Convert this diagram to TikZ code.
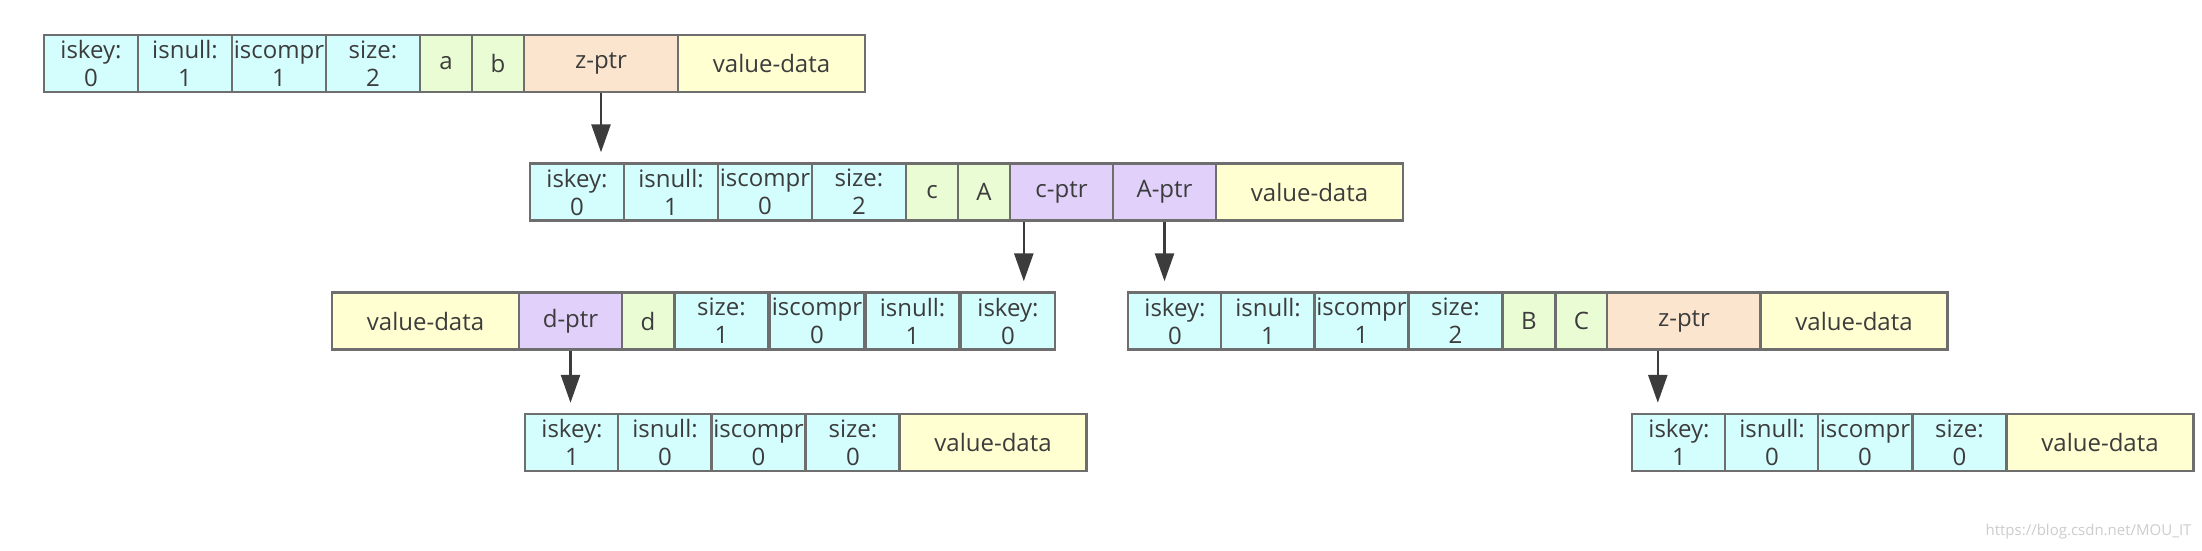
\documentclass[tikz,border=0pt]{standalone}
\usepackage{fontspec}
\setmainfont{Open Sans}
\usetikzlibrary{arrows.meta}
\definecolor{cyanf}{HTML}{D4FDFD}
\definecolor{chrf}{HTML}{EAFCD4}
\definecolor{ptrf}{HTML}{E0D0FA}
\definecolor{zptrf}{HTML}{FBE5CE}
\definecolor{valf}{HTML}{FFFFD2}
\definecolor{edge}{HTML}{6E6E6E}
\definecolor{ink}{HTML}{3C3C3C}
\begin{document}
\begin{tikzpicture}[x=1pt,y=-1pt,
  cell/.style={draw=edge,line width=2.4pt,minimum height=57pt,inner sep=0pt,align=center,
    text=ink,font=\fontsize{24}{28}\selectfont},
  fld/.style={cell,fill=cyanf,minimum width=94pt},
  chr/.style={cell,fill=chrf,minimum width=52pt},
  ptr/.style={cell,fill=ptrf,minimum width=103pt},
  zptr/.style={cell,fill=zptrf,minimum width=154pt},
  val/.style={cell,fill=valf,minimum width=187pt},
  link/.style={draw=ink,line width=2.6pt,-{Triangle[length=28pt,width=19pt]},shorten >=10pt}]
\useasboundingbox (0,0) rectangle (2202,550);
\node[fld] (k1) at (91,63.5) {iskey:\\0};
\node[fld] (n1) at (185,63.5) {isnull:\\1};
\node[fld] (c1) at (279,63.5) {iscompr\\1};
\node[fld] (s1) at (373,63.5) {size:\\2};
\node[chr] (a1) at (446,63.5) {a};
\node[chr] (b1) at (498,63.5) {b};
\node[zptr] (zp1) at (601,63.5) {z-ptr};
\node[val] (v1) at (771.5,63.5) {value-data};
\node[fld] (k2) at (577,192) {iskey:\\0};
\node[fld] (n2) at (671,192) {isnull:\\1};
\node[fld] (c2) at (765,192) {iscompr\\0};
\node[fld] (s2) at (859,192) {size:\\2};
\node[chr] (cc2) at (932,192) {c};
\node[chr] (aa2) at (984,192) {A};
\node[ptr] (cp2) at (1061.5,192) {c-ptr};
\node[ptr] (ap2) at (1164.5,192) {A-ptr};
\node[val] (v2) at (1309.5,192) {value-data};
\node[val] (v3l) at (425.5,321) {value-data};
\node[ptr] (dp3) at (570.5,321) {d-ptr};
\node[chr] (d3) at (648,321) {d};
\node[fld] (s3l) at (721.5,321) {size:\\1};
\node[fld] (c3l) at (817,321) {iscompr\\0};
\node[fld] (n3l) at (912.5,321) {isnull:\\1};
\node[fld] (k3l) at (1008,321) {iskey:\\0};
\node[fld] (k3r) at (1175,321) {iskey:\\0};
\node[fld] (n3r) at (1268,321) {isnull:\\1};
\node[fld] (c3r) at (1361.5,321) {iscompr\\1};
\node[fld] (s3r) at (1455.5,321) {size:\\2};
\node[chr] (bb3) at (1529,321) {B};
\node[chr] (cc3) at (1581.5,321) {C};
\node[zptr] (zp3) at (1684,321) {z-ptr};
\node[val] (v3r) at (1854,321) {value-data};
\node[fld] (k4l) at (572,442.5) {iskey:\\1};
\node[fld] (n4l) at (665,442.5) {isnull:\\0};
\node[fld] (c4l) at (758.5,442.5) {iscompr\\0};
\node[fld] (s4l) at (853,442.5) {size:\\0};
\node[val] (v4l) at (993,442.5) {value-data};
\node[fld] (k4r) at (1679,442.5) {iskey:\\1};
\node[fld] (n4r) at (1772,442.5) {isnull:\\0};
\node[fld] (c4r) at (1865,442.5) {iscompr\\0};
\node[fld] (s4r) at (1959.5,442.5) {size:\\0};
\node[val] (v4r) at (2100,442.5) {value-data};
\draw[link] (zp1.south) -- (zp1.south |- k2.north);
\draw[link] ([xshift=15pt]cp2.south west) -- ([xshift=15pt]cp2.south west |- k3l.north);
\draw[link] (ap2.south) -- (ap2.south |- k3r.north);
\draw[link] (dp3.south) -- (dp3.south |- k4l.north);
\draw[link] ([xshift=52pt]zp3.south west) -- ([xshift=52pt]zp3.south west |- k4r.north);
\node[anchor=east,text=black!20,font=\fontsize{15}{18}\selectfont] (wm) at (2195,532) {https://blog.csdn.net/MOU\_IT};
\end{tikzpicture}
\end{document}
